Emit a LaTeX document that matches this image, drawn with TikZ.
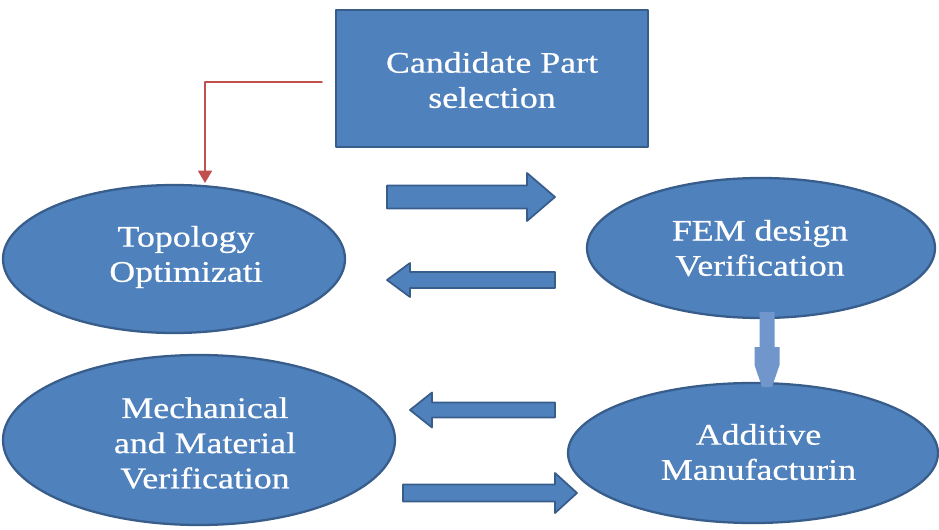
\documentclass[tikz,border=0pt]{standalone}
\usepackage{fontspec}
\setmainfont{Liberation Serif}[FakeStretch=1.2, FakeBold=0.6]
\usetikzlibrary{shapes.geometric,arrows.meta}
\definecolor{boxblue}{HTML}{4F81BD}
\definecolor{edgeblue}{HTML}{385D8A}
\definecolor{lightblue}{HTML}{7096CB}
\definecolor{linkred}{HTML}{C0504D}
\newcommand{\blockarrow}[6]{% tail x, head base x, tip x, y, body half, head half
	\draw[barrow] (#1,#4-#5) -- (#2,#4-#5) -- (#2,#4-#6) -- (#3,#4) -- (#2,#4+#6) -- (#2,#4+#5) -- (#1,#4+#5) -- cycle;}
\begin{document}
\begin{tikzpicture}[line join=round, line cap=round,
	stage/.style={draw=edgeblue, line width=1.3pt, fill=boxblue},
	oval/.style={stage, ellipse, inner sep=0pt},
	label/.style={text=white, align=center, font=\fontsize{17}{20}\selectfont},
	barrow/.style={draw=edgeblue, line width=1pt, fill=boxblue}]
	\useasboundingbox (0,0) rectangle (18.78,10.58);
	% stages
	\node[stage, minimum width=6.24cm, minimum height=2.74cm] (cand) at (9.84,9.01) {};
	\node[oval, minimum width=6.84cm, minimum height=2.96cm] (topo) at (3.48,5.40) {};
	\node[oval, minimum width=6.96cm, minimum height=2.80cm] (fem) at (15.22,5.62) {};
	\node[oval, minimum width=7.84cm, minimum height=3.40cm] (mech) at (3.98,1.78) {};
	\node[oval, minimum width=7.40cm, minimum height=2.80cm] (am) at (15.06,1.52) {};
	% texts
	\node[label] (candtxt) at (9.84,8.98) {Candidate Part\\selection};
	\node[label] (topotxt) at (3.72,5.44) {Topology\\Optimizati};
	\node[label] (femtxt) at (15.20,5.62) {FEM design\\Verification};
	\node[label] (mechtxt) at (4.10,1.72) {Mechanical\\and Material\\Verification};
	\node[label] (amtxt) at (15.17,1.54) {Additive\\Manufacturin};
	% red link to topology
	\coordinate (redstart) at (6.44,8.94);
	\coordinate (redend) at (4.10,6.92);
	\draw[linkred, line width=0.8pt, -{Triangle[width=8pt,length=7pt]}] (redstart) -| (redend);
	% block arrows
	\blockarrow{7.74}{10.54}{11.10}{6.64}{0.23}{0.48}
	\blockarrow{11.10}{8.20}{7.74}{4.98}{0.16}{0.34}
	\blockarrow{11.10}{8.64}{8.20}{2.38}{0.15}{0.35}
	\blockarrow{8.06}{11.10}{11.54}{0.72}{0.17}{0.40}
	% down arrow fem -> am
	\fill[lightblue] (15.19,4.34) -- (15.19,3.64) -- (15.09,3.64) -- (15.09,3.28) -- (15.24,2.84)
		-- (15.44,2.84) -- (15.59,3.28) -- (15.59,3.64) -- (15.49,3.64) -- (15.49,4.34) -- cycle;
\end{tikzpicture}
\end{document}
